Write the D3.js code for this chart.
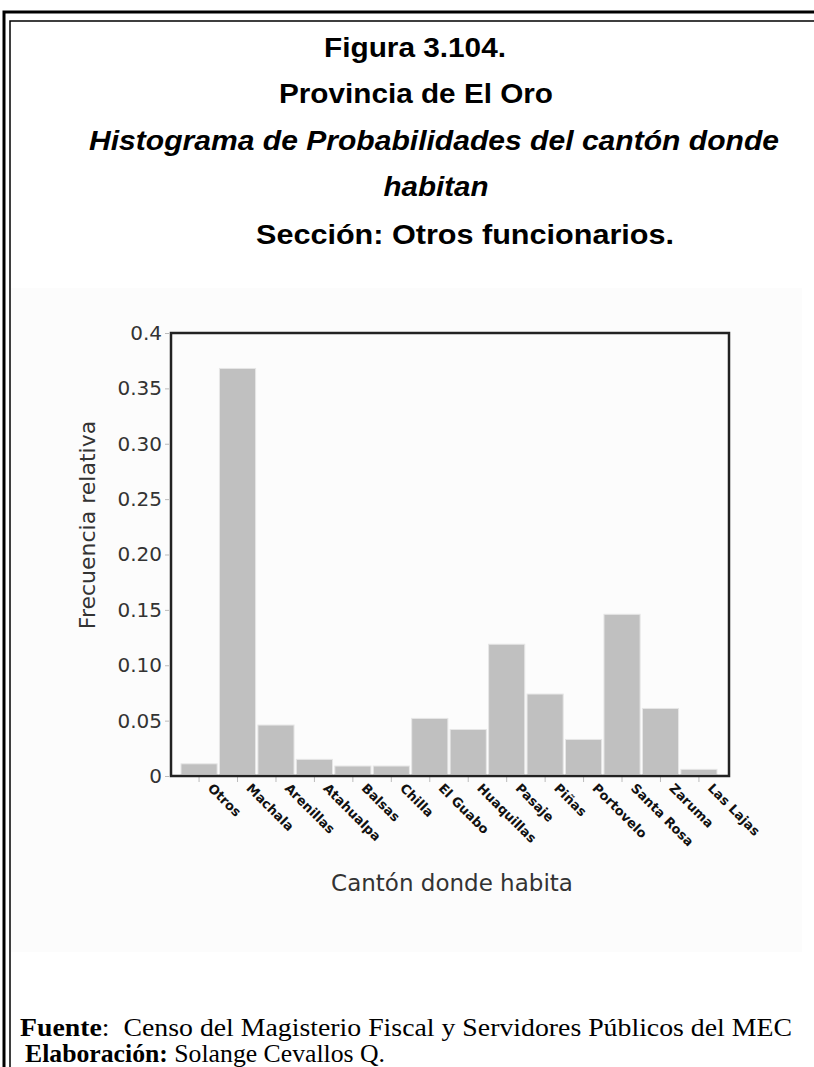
<!DOCTYPE html>
<html>
<head>
<meta charset="utf-8">
<script src="https://cdn.jsdelivr.net/npm/d3@7"></script>
<style>
  body { margin: 0; background: #fff; }
  svg { display: block; }
</style>
</head>
<body>
<div id="chart"></div>
<script>
// data
var cantones = ["Otros", "Machala", "Arenillas", "Atahualpa", "Balsas", "Chilla", "El Guabo",
    "Huaquillas", "Pasaje", "Piñas", "Portovelo", "Santa Rosa", "Zaruma", "Las Lajas"];
var frecuencias = [0.011, 0.368, 0.046, 0.015, 0.009, 0.009, 0.052,
    0.042, 0.119, 0.074, 0.033, 0.146, 0.061, 0.006];
var yTicks = [0, 0.05, 0.10, 0.15, 0.20, 0.25, 0.30, 0.35, 0.4];
var yTickLabels = ["0", "0.05", "0.10", "0.15", "0.20", "0.25", "0.30", "0.35", "0.4"];

var titleLines = [
    {text: "Figura 3.104.", italic: false, x: 415, y: 57, w: 182},
    {text: "Provincia de El Oro", italic: false, x: 416, y: 103, w: 274},
    {text: "Histograma de Probabilidades del cantón donde", italic: true, x: 434, y: 150, w: 690},
    {text: "habitan", italic: true, x: 436, y: 196, w: 105},
    {text: "Sección: Otros funcionarios.", italic: false, x: 465, y: 244, w: 418}
];

var W = 814, H = 1067;
// plot frame
var frame = {left: 171, top: 333, right: 729, bottom: 776};

var svg = d3.select("#chart")
    .append("svg")
    .attr("width", W)
    .attr("height", H);

// page border (double line, cut on right/bottom)
svg.append("path")
    .attr("d", "M4," + H + "V12H" + W)
    .attr("fill", "none")
    .attr("stroke", "#000")
    .attr("stroke-width", 3);
svg.append("path")
    .attr("d", "M10," + H + "V21H" + W)
    .attr("fill", "none")
    .attr("stroke", "#000")
    .attr("stroke-width", 1.5);

// titles
titleLines.forEach(function(t) {
    svg.append("text")
        .attr("x", t.x)
        .attr("y", t.y)
        .attr("text-anchor", "middle")
        .attr("font-family", "Liberation Sans, Arial, sans-serif")
        .attr("font-weight", "bold")
        .attr("font-style", t.italic ? "italic" : "normal")
        .attr("font-size", 27)
        .attr("textLength", t.w)
        .attr("lengthAdjust", "spacingAndGlyphs")
        .text(t.text);
});

// chart screenshot background
svg.append("rect")
    .attr("x", 11).attr("y", 288)
    .attr("width", 791).attr("height", 664)
    .attr("fill", "#fcfcfc");

// scales
var x = d3.scaleBand()
    .domain(cantones)
    .range([181, 717])
    .paddingInner(0.06)
    .paddingOuter(0.0);

var y = d3.scaleLinear()
    .domain([0, 0.4])
    .range([frame.bottom, frame.top]);

// bars
svg.append("g")
    .selectAll("rect")
    .data(frecuencias)
    .join("rect")
    .attr("x", function(d, i) { return x(cantones[i]); })
    .attr("y", function(d) { return y(d); })
    .attr("width", x.bandwidth())
    .attr("height", function(d) { return frame.bottom - 1.5 - y(d); })
    .attr("fill", "#c0c0c0")
    .attr("stroke", "#e6e6e6")
    .attr("stroke-width", 1);

// Y axis
var yAxis = svg.append("g")
    .attr("transform", "translate(" + (frame.left - 2) + ",0)")
    .call(d3.axisLeft(y)
        .tickValues(yTicks)
        .tickSize(4)
        .tickPadding(3)
        .tickFormat(function(d, i) { return yTickLabels[i]; }));
yAxis.select(".domain").remove();
yAxis.selectAll(".tick line").attr("stroke", "#bbb");
yAxis.selectAll(".tick text")
    .attr("font-family", "DejaVu Sans, sans-serif")
    .attr("font-size", 20)
    .attr("fill", "#333");

// X axis ticks and labels
var xAxis = svg.append("g")
    .attr("transform", "translate(0," + (frame.bottom + 1) + ")")
    .call(d3.axisBottom(x).tickSize(5).tickSizeOuter(0));
xAxis.select(".domain").remove();
xAxis.selectAll(".tick line").attr("stroke", "#bbb");
xAxis.selectAll(".tick text")
    .attr("font-family", "DejaVu Sans, sans-serif")
    .attr("font-weight", "bold")
    .attr("font-size", 13)
    .attr("fill", "#111")
    .attr("text-anchor", "start")
    .attr("dy", null)
    .attr("y", 0)
    .attr("transform", "translate(8,12) rotate(45)");

// frame
svg.append("rect")
    .attr("x", frame.left)
    .attr("y", frame.top)
    .attr("width", frame.right - frame.left)
    .attr("height", frame.bottom - frame.top)
    .attr("fill", "none")
    .attr("stroke", "#222")
    .attr("stroke-width", 2.5);

// axis titles
svg.append("text")
    .attr("transform", "translate(95,525) rotate(-90)")
    .attr("text-anchor", "middle")
    .attr("font-family", "DejaVu Sans, sans-serif")
    .attr("font-size", 22)
    .attr("fill", "#333")
    .text("Frecuencia relativa");

svg.append("text")
    .attr("x", 452)
    .attr("y", 891)
    .attr("text-anchor", "middle")
    .attr("font-family", "DejaVu Sans, sans-serif")
    .attr("font-size", 23)
    .attr("fill", "#333")
    .text("Cantón donde habita");

// source notes
var fuente = svg.append("text")
    .attr("x", 20)
    .attr("y", 1036)
    .attr("font-family", "Liberation Serif, Times New Roman, serif")
    .attr("font-size", 25)
    .attr("textLength", 772)
    .attr("lengthAdjust", "spacingAndGlyphs");
fuente.append("tspan").attr("font-weight", "bold").text("Fuente");
fuente.append("tspan").text(":\u00a0 Censo del Magisterio Fiscal y Servidores Públicos del MEC");

var elab = svg.append("text")
    .attr("x", 25)
    .attr("y", 1062)
    .attr("font-family", "Liberation Serif, Times New Roman, serif")
    .attr("font-size", 25)
    .attr("textLength", 360)
    .attr("lengthAdjust", "spacingAndGlyphs");
elab.append("tspan").attr("font-weight", "bold").text("Elaboración:");
elab.append("tspan").text(" Solange Cevallos Q.");
</script>
</body>
</html>
